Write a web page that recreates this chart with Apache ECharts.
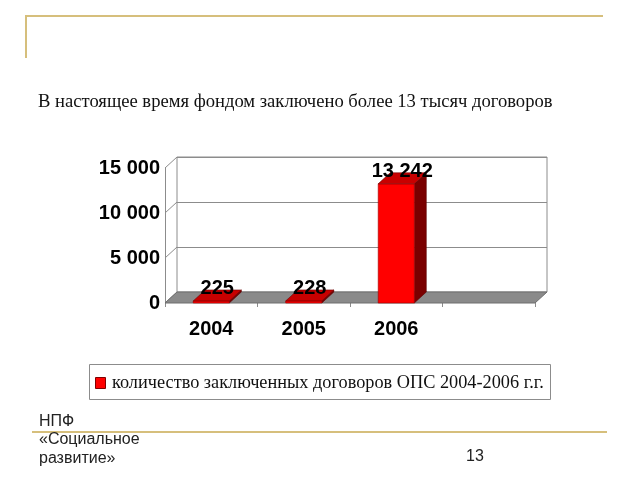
<!DOCTYPE html>
<html><head><meta charset="utf-8">
<script src="https://cdn.jsdelivr.net/npm/echarts@6/dist/echarts.min.js"></script>
<style>html,body{margin:0;padding:0;background:#fff}#c{width:640px;height:480px}</style>
</head><body><div id="c"></div>
<script>
var categories = ['2004', '2005', '2006', ''];
var values = [225, 228, 13242];
var yTicks = [0, 5000, 10000, 15000];
var titleText = 'В настоящее время фондом заключено более 13 тысяч договоров';
var legendText = 'количество заключенных договоров ОПС 2004-2006 г.г.';
var footerLines = ['НПФ', '«Социальное', 'развитие»'];
var pageNumber = '13';

var DX = 12, DY = -11;
function fmt(v) { return String(v).replace(/\B(?=(\d{3})+(?!\d))/g, ' '); }

var chart = echarts.init(document.getElementById('c'), null, {renderer: 'canvas'});
var gold = '#D6BF7C';
var axisFont = {fontFamily: 'Liberation Sans, Arial', fontWeight: 'bold', fontSize: 20, color: '#000'};

chart.setOption({
  animation: false,
  backgroundColor: '#fff',
  grid: [
    {left: 165, right: 105, top: 168, bottom: 177},
    {left: 177, right: 93, top: 157, bottom: 188, show: true, borderColor: '#8c8c8c', borderWidth: 1, backgroundColor: 'transparent', z: 0}
  ],
  xAxis: [
    {type: 'category', gridIndex: 0, data: categories,
     axisLine: {show: false},
     axisTick: {show: true, length: 4, lineStyle: {color: '#8c8c8c'}},
     axisLabel: Object.assign({margin: 16}, axisFont)},
    {type: 'category', gridIndex: 1, data: categories, show: false}
  ],
  yAxis: [
    {type: 'value', gridIndex: 0, min: 0, max: 15000, interval: 5000,
     axisLine: {show: true, lineStyle: {color: '#8c8c8c'}},
     axisTick: {show: false}, splitLine: {show: false},
     axisLabel: Object.assign({margin: 5, formatter: function (v) { return fmt(v); }}, axisFont)},
    {type: 'value', gridIndex: 1, min: 0, max: 15000, interval: 5000,
     axisLine: {show: false}, axisTick: {show: false}, axisLabel: {show: false},
     splitLine: {show: true, lineStyle: {color: '#8c8c8c', width: 1}}}
  ],
  series: [
    { // left wall diagonals
      type: 'custom', xAxisIndex: 0, yAxisIndex: 0, z: 1, silent: true,
      data: yTicks.map(function (t) { return [0, t]; }),
      renderItem: function (params, api) {
        var p = api.coord([0, api.value(1)]);
        var x = params.coordSys.x;
        return {type: 'line', shape: {x1: x, y1: p[1], x2: x + DX, y2: p[1] + DY},
                style: {stroke: '#8c8c8c', lineWidth: 1}};
      }
    },
    { // floor
      type: 'custom', xAxisIndex: 0, yAxisIndex: 0, z: 2, silent: true,
      data: [[0, 0]],
      renderItem: function (params, api) {
        var cs = params.coordSys;
        var y = api.coord([0, 0])[1];
        var x0 = cs.x, x1 = cs.x + cs.width;
        return {type: 'polygon', shape: {points: [[x0, y], [x1, y], [x1 + DX, y + DY], [x0 + DX, y + DY]]},
                style: {fill: '#8a8a8a', stroke: '#6e6e6e', lineWidth: 1}};
      }
    },
    { // 3D bars
      type: 'custom', xAxisIndex: 0, yAxisIndex: 0, z: 5, silent: true,
      data: values.map(function (v, i) { return [i, v]; }),
      renderItem: function (params, api) {
        var i = api.value(0), v = api.value(1);
        var top = api.coord([i, v]);
        var bot = api.coord([i, 0]);
        var w = api.size([1, 0])[0] * 0.39;
        var x0 = top[0] - w / 2, x1 = top[0] + w / 2;
        var yt = top[1], yb = bot[1];
        return {type: 'group', children: [
          {type: 'polygon', shape: {points: [[x1, yt], [x1 + DX, yt + DY], [x1 + DX, yb + DY], [x1, yb]]},
           style: {fill: '#7a0000', stroke: '#5a0000', lineWidth: 0.6}},
          {type: 'rect', shape: {x: x0, y: yt, width: w, height: Math.max(yb - yt, 0.5)},
           style: {fill: '#ff0000', stroke: '#a00000', lineWidth: 0.6}},
          {type: 'polygon', shape: {points: [[x0, yt], [x0 + DX, yt + DY], [x1 + DX, yt + DY], [x1, yt]]},
           style: {fill: '#c80000', stroke: '#700000', lineWidth: 0.6}},
          {type: 'text', x: top[0] + DX / 2, y: yt + DY - 1,
           style: {text: fmt(v), x: 0, y: 0, align: 'center', verticalAlign: 'middle',
                   font: 'bold 20px "Liberation Sans", Arial', fill: '#000'}}
        ]};
      }
    }
  ],
  graphic: [
    {type: 'polyline', shape: {points: [[26, 58], [26, 16], [603, 16]]}, style: {stroke: gold, lineWidth: 2, fill: null}},
    {type: 'text', left: 38, top: 93, style: {text: titleText, font: '18.6px "Liberation Serif", "Times New Roman"', fill: '#111'}},
    {type: 'rect', shape: {x: 89.5, y: 364.5, width: 461, height: 35}, style: {fill: '#fff', stroke: '#8c8c8c', lineWidth: 1}},
    {type: 'rect', shape: {x: 95.5, y: 377.5, width: 10, height: 11}, style: {fill: '#ff0000', stroke: '#800000', lineWidth: 1}},
    {type: 'text', left: 112, top: 374, style: {text: legendText, font: '18.3px "Liberation Serif", "Times New Roman"', fill: '#111'}},
    {type: 'line', shape: {x1: 32, y1: 432, x2: 607, y2: 432}, style: {stroke: gold, lineWidth: 2}},
    {type: 'text', left: 39, top: 412, style: {text: footerLines.join('\n'), font: '16px "Liberation Sans", Arial', lineHeight: 18.5, fill: '#222'}},
    {type: 'text', left: 466, top: 449, style: {text: pageNumber, font: '16px "Liberation Sans", Arial', fill: '#222'}}
  ]
});
</script></body></html>
